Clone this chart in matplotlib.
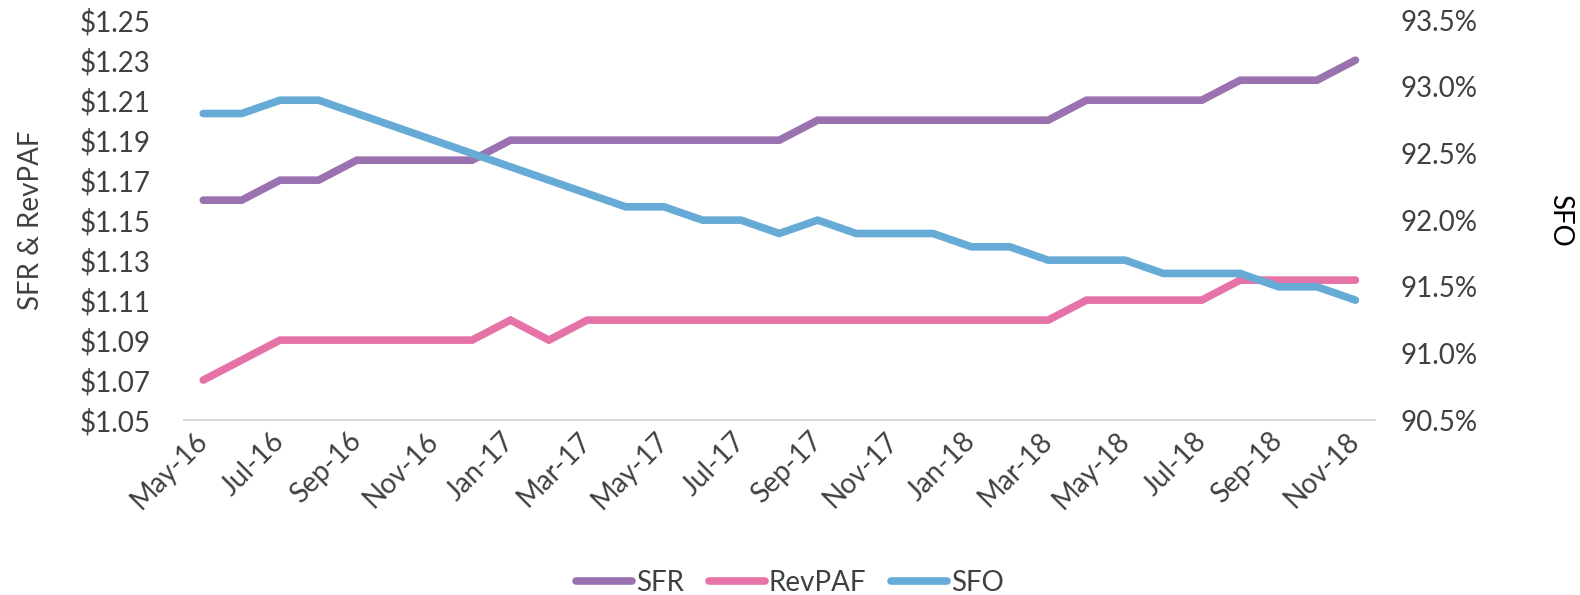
import matplotlib
matplotlib.use("Agg")
import matplotlib.pyplot as plt
import matplotlib.transforms as mtransforms
from matplotlib.ticker import FuncFormatter

months = ["May-16","Jun-16","Jul-16","Aug-16","Sep-16","Oct-16","Nov-16","Dec-16",
          "Jan-17","Feb-17","Mar-17","Apr-17","May-17","Jun-17","Jul-17","Aug-17",
          "Sep-17","Oct-17","Nov-17","Dec-17","Jan-18","Feb-18","Mar-18","Apr-18",
          "May-18","Jun-18","Jul-18","Aug-18","Sep-18","Oct-18","Nov-18"]
sfr = [1.16,1.16,1.17,1.17,1.18,1.18,1.18,1.18,
       1.19,1.19,1.19,1.19,1.19,1.19,1.19,1.19,
       1.20,1.20,1.20,1.20,1.20,1.20,1.20,
       1.21,1.21,1.21,1.21,1.22,1.22,1.22,1.23]
revpaf = [1.07,1.08,1.09,1.09,1.09,1.09,1.09,1.09,1.10,1.09,
          1.10,1.10,1.10,1.10,1.10,1.10,1.10,1.10,1.10,1.10,1.10,1.10,1.10,
          1.11,1.11,1.11,1.11,1.12,1.12,1.12,1.12]
sfo = [92.8,92.8,92.9,92.9,92.8,92.7,92.6,92.5,92.4,92.3,92.2,92.1,92.1,92.0,92.0,91.9,
       92.0,91.9,91.9,91.9,91.8,91.8,91.7,91.7,91.7,91.6,91.6,91.6,91.5,91.5,91.4]
left_ticks = [1.05,1.07,1.09,1.11,1.13,1.15,1.17,1.19,1.21,1.23,1.25]
right_ticks = [90.5,91.0,91.5,92.0,92.5,93.0,93.5]

FONT = ["Lato", "DejaVu Sans"]
plt.rcParams['font.family'] = FONT
C_SFR = "#9B72B0"
C_REV = "#E673A8"
C_SFO = "#66AAD6"
TXT = "#404040"
FS = 20

fig = plt.figure(figsize=(15.8, 5.95), dpi=100)
ax = fig.add_axes([0.1165, 0.294, 0.7535, 0.672])
ax2 = ax.twinx()

x = list(range(len(months)))
lw = 5.5
l1, = ax.plot(x, sfr, color=C_SFR, lw=lw, solid_capstyle='round', solid_joinstyle='miter', label="SFR", zorder=3)
l2, = ax.plot(x, revpaf, color=C_REV, lw=lw, solid_capstyle='round', solid_joinstyle='miter', label="RevPAF", zorder=3)
l3, = ax2.plot(x, sfo, color=C_SFO, lw=lw, solid_capstyle='round', solid_joinstyle='miter', label="SFO", zorder=3)

ax.set_xlim(-0.5, len(months) - 0.5)
ax.set_ylim(1.05, 1.25)
ax.set_yticks(left_ticks)
ax.yaxis.set_major_formatter(FuncFormatter(lambda v, p: f"${v:.2f}"))
ax2.set_ylim(90.5, 93.5)
ax2.set_yticks(right_ticks)
ax2.yaxis.set_major_formatter(FuncFormatter(lambda v, p: f"{v:.1f}%"))

ax.set_xticks(x[::2])
ax.set_xticklabels(months[::2], rotation=45, ha='right', va='center', rotation_mode='anchor')
offset = mtransforms.ScaledTranslation(8 / 100, 0, fig.dpi_scale_trans)
for lab in ax.get_xticklabels():
    lab.set_transform(lab.get_transform() + offset)

for a in (ax, ax2):
    for s in a.spines.values():
        s.set_visible(False)
    a.tick_params(length=0, labelsize=FS, labelcolor=TXT)
ax.spines['bottom'].set_visible(True)
ax.spines['bottom'].set_color("#D9D9D9")
ax.spines['bottom'].set_linewidth(1.5)
ax.tick_params(axis='x', pad=12)
ax.tick_params(axis='y', pad=24)
ax2.tick_params(axis='y', pad=19)

ax.set_ylabel("SFR & RevPAF", fontsize=FS, color=TXT, labelpad=26)
ax2.set_ylabel("SFO", fontsize=FS, color="black", rotation=270, labelpad=50, va='bottom')

fig.legend(handles=[l1, l2, l3], labels=["SFR", "RevPAF", "SFO"], loc='center',
           bbox_to_anchor=(0.5, 0.02), ncol=3, frameon=False, fontsize=FS,
           handlelength=2.0, columnspacing=0.9, handletextpad=0.15, labelcolor=TXT)

fig.savefig("out.png", dpi=100)
